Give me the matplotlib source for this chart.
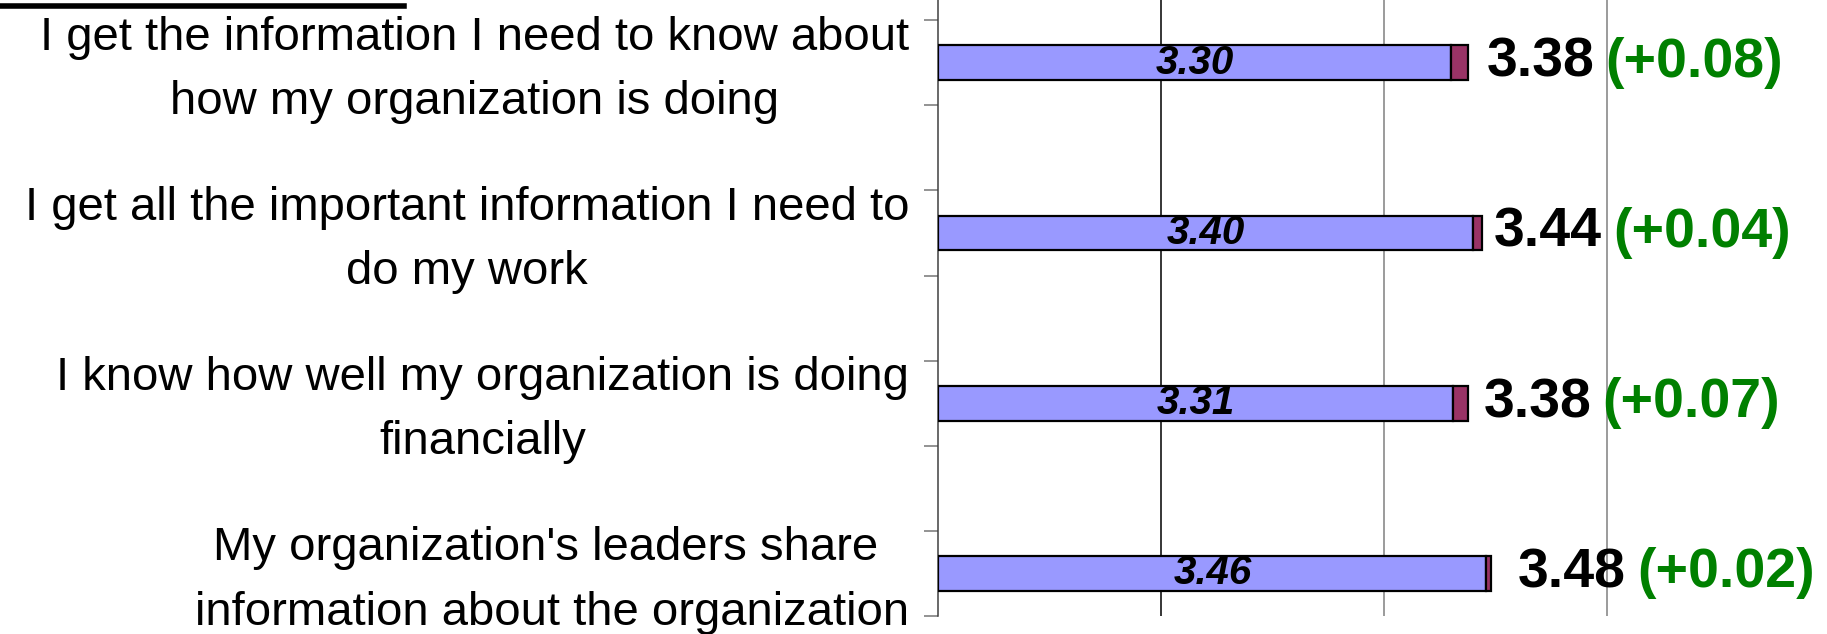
import matplotlib
matplotlib.use("Agg")
import matplotlib.pyplot as plt
from matplotlib.lines import Line2D

labels = [
    "I get the information I need to know about\nhow my organization is doing",
    "I get all the important information I need to\ndo my work",
    "I know how well my organization is doing\nfinancially",
    "My organization's leaders share \ninformation about the organization",
]
previous = [3.30, 3.40, 3.31, 3.46]
current = [3.38, 3.44, 3.38, 3.48]
change_text = ["(+0.08)", "(+0.04)", "(+0.07)", "(+0.02)"]

# styling
label_gap = [18, 12, 15, 27]   # px between bar end and value label
XMIN, XMAX = 1, 5

plt.rcParams['font.family'] = ['Liberation Sans', 'DejaVu Sans']

fig = plt.figure(figsize=(18.27, 6.34), dpi=100)
ax = fig.add_axes([938.4 / 1827, 18 / 634, 890.8 / 1827, 680.9 / 634])

ypos = list(range(len(labels)))
widths = [p - XMIN for p in previous]
extra = [c - p for c, p in zip(current, previous)]

ax.barh(ypos, widths, left=XMIN, height=0.205, color='#9999ff',
        edgecolor='black', linewidth=1.6, zorder=3)
ax.barh(ypos, extra, left=previous, height=0.205, color='#993366',
        edgecolor='black', linewidth=1.6, zorder=3)

ax.set_xlim(XMIN, XMAX)
ax.set_ylim(3.25, -0.75)

# grid
ax.set_xticks([2, 3, 4])
ax.tick_params(axis='x', length=0, labelbottom=False)
ax.grid(axis='x', color='#808080', linewidth=1.1, zorder=0)
ax.get_xgridlines()[0].set_color('black')

# y axis: tick marks between categories, labels drawn beside each bar
ax.set_yticks([y + d for y in ypos for d in (-0.25, 0.25)])
ax.tick_params(axis='y', length=10, width=1.2, color='#808080', labelleft=False)

for s in ['top', 'right', 'bottom']:
    ax.spines[s].set_visible(False)
ax.spines['left'].set_color('#404040')
ax.spines['left'].set_linewidth(1.1)

for i in ypos:
    ax.annotate(labels[i], xy=(0, i), xycoords=ax.get_yaxis_transform(),
                xytext=(-21, -5), textcoords='offset points', ha='right', va='center',
                multialignment='center', linespacing=1.6, fontsize=34,
                annotation_clip=False)
    ax.text((XMIN + previous[i]) / 2, i, f"{previous[i]:.2f}", ha='center', va='center',
            fontsize=29, fontweight='bold', fontstyle='italic', color='black', zorder=4)
    t = ax.annotate(f"{current[i]:.2f}", xy=(current[i], i), xytext=(label_gap[i] * 0.72, 0),
                    textcoords='offset points', ha='left', va='center',
                    fontsize=40, fontweight='bold', color='black', annotation_clip=False)
    ax.annotate(change_text[i], xy=(1, 0.5), xycoords=t, xytext=(8, 0),
                textcoords='offset points', ha='left', va='center',
                fontsize=40, fontweight='bold', color='#008000', annotation_clip=False)

# decorative rule at top left
fig.add_artist(Line2D([0, 404 / 1827], [1 - 5.5 / 634] * 2, color='black', linewidth=4,
                      transform=fig.transFigure))

fig.savefig("out.png", dpi=100)
